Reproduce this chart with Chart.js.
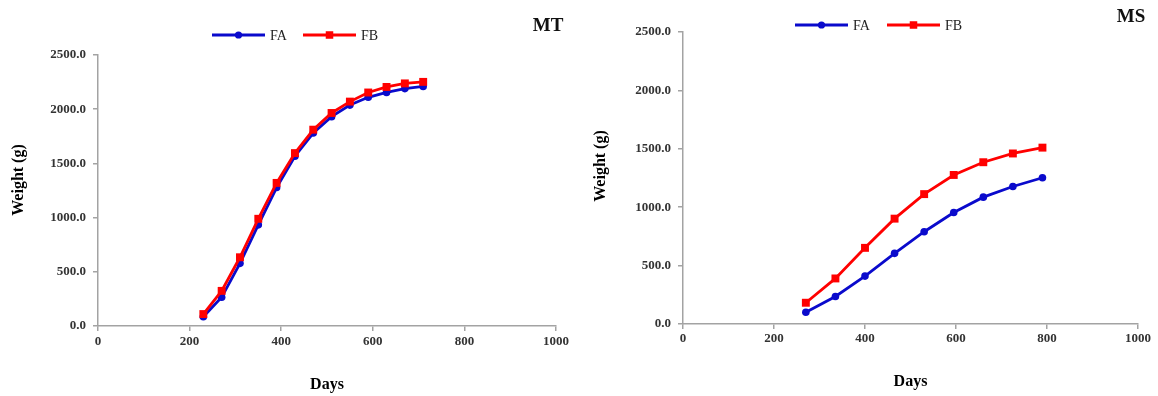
<!DOCTYPE html>
<html lang="en">
<head>
<meta charset="utf-8">
<title>Weight (g) / Days – MT, MS</title>
<script src="https://cdn.jsdelivr.net/npm/chart.js@4.4.1/dist/chart.umd.min.js"></script>
<style>
  html, body { margin: 0; padding: 0; background: #ffffff; }
  .panneau { position: absolute; top: 0; }
  .panneau canvas { display: block; }
  #panneau-mt { left: 0; }
  #panneau-ms { left: 580px; }
</style>
</head>
<body>
<div class="panneau" id="panneau-mt"><canvas id="chart-mt" width="580" height="396"></canvas></div>
<div class="panneau" id="panneau-ms"><canvas id="chart-ms" width="578" height="396"></canvas></div>

<script>
'use strict';

/* === DONNÉES === */
const SERIES = ['FA', 'FB'];

const JOURS_MT = [230, 270, 310, 350, 390, 430, 470, 510, 550, 590, 630, 670, 710];
const POIDS_MT_FA = [85, 265, 578, 933, 1277, 1566, 1780, 1931, 2038, 2110, 2155, 2190, 2210];
const POIDS_MT_FB = [110, 324, 634, 989, 1320, 1595, 1811, 1965, 2070, 2154, 2205, 2238, 2252];

const JOURS_MS = [270, 335, 400, 465, 530, 595, 660, 725, 790];
const POIDS_MS_FA = [100, 236, 410, 605, 790, 955, 1086, 1177, 1252];
const POIDS_MS_FB = [182, 390, 652, 902, 1112, 1276, 1385, 1460, 1510];

const GRADUATIONS_X = [0, 200, 400, 600, 800, 1000];
const GRADUATIONS_Y = [0, 500, 1000, 1500, 2000, 2500];

/* === STYLE === */
const COULEURS = { FA: '#0a0acc', FB: '#ff0000' };
const MARQUEURS = { FA: 'circle', FB: 'rect' };
const RAYONS = { FA: 3.8, FB: 5.6 };
const GRIS_AXE = '#a3a3a3';
const SERIF = '"Liberation Serif", "Times New Roman", serif';

/* === HELPERS === */

function construirePoints(jours, poids) {
  return jours.map((x, i) => ({ x, y: poids[i] }));
}

function dessinerMarqueur(ctx, style, x, y, r) {
  ctx.beginPath();
  if (style === 'rect') {
    const c = Math.SQRT1_2 * r;
    ctx.rect(x - c, y - c, 2 * c, 2 * c);
  } else {
    ctx.arc(x, y, r, 0, Math.PI * 2);
  }
  ctx.fill();
}

/* légende, titre du panneau et titre de l'axe Y */
const pluginDecor = {
  id: 'decor',
  afterDraw(chart, args, opts) {
    const ctx = chart.ctx;
    const leg = opts.legende;
    ctx.save();

    chart.data.datasets.forEach((ds, i) => {
      const x0 = leg.x + i * leg.pas;
      ctx.strokeStyle = ds.borderColor;
      ctx.lineWidth = ds.borderWidth;
      ctx.beginPath();
      ctx.moveTo(x0, leg.y);
      ctx.lineTo(x0 + leg.longueur, leg.y);
      ctx.stroke();
      ctx.fillStyle = ds.borderColor;
      dessinerMarqueur(ctx, ds.pointStyle, x0 + leg.longueur / 2, leg.y, ds.pointRadius * 0.95);

      ctx.fillStyle = '#222222';
      ctx.font = '14px ' + SERIF;
      ctx.textAlign = 'left';
      ctx.textBaseline = 'middle';
      ctx.fillText(ds.label, x0 + leg.longueur + 5, leg.y + 1);
    });

    ctx.fillStyle = '#111111';
    ctx.font = 'bold 19px ' + SERIF;
    ctx.textAlign = 'center';
    ctx.textBaseline = 'middle';
    ctx.fillText(opts.titre.texte, opts.titre.x, opts.titre.y);

    ctx.translate(opts.titreY.x, opts.titreY.y);
    ctx.rotate(-Math.PI / 2);
    ctx.font = 'bold 16px ' + SERIF;
    ctx.fillStyle = '#000000';
    ctx.fillText('Weight (g)', 0, 0);
    ctx.restore();
  }
};

/* === CRÉATION === */

function creerGraphique(idCanvas, jours, poidsFA, poidsFB, mise) {
  const poids = { FA: poidsFA, FB: poidsFB };
  const ctx = document.getElementById(idCanvas).getContext('2d');

  return new Chart(ctx, {
    type: 'line',
    data: {
      datasets: SERIES.map((nom, i) => ({
        label: nom,
        data: construirePoints(jours, poids[nom]),
        borderColor: COULEURS[nom],
        backgroundColor: COULEURS[nom],
        borderWidth: 2.8,
        pointStyle: MARQUEURS[nom],
        pointRadius: RAYONS[nom],
        pointBorderWidth: 0,
        tension: 0,
        order: SERIES.length - i
      }))
    },
    options: {
      responsive: false,
      animation: false,
      layout: { padding: { top: mise.haut, right: mise.droite, left: 0, bottom: 0 } },
      plugins: {
        legend: { display: false },
        tooltip: { enabled: false },
        decor: {
          legende: mise.legende,
          titre: mise.titre,
          titreY: mise.titreY
        }
      },
      scales: {
        x: {
          type: 'linear',
          min: 0,
          max: 1000,
          afterBuildTicks: s => { s.ticks = GRADUATIONS_X.map(v => ({ value: v })); },
          afterFit: s => { s.height = mise.hauteurX; },
          ticks: {
            autoSkip: false,
            maxRotation: 0,
            padding: mise.padGradX,
            color: '#333333',
            font: { family: SERIF, size: 13, weight: 'bold' },
            callback: v => String(v)
          },
          grid: { drawOnChartArea: false, drawTicks: true, tickLength: 5, tickColor: GRIS_AXE, lineWidth: 1.5 },
          border: { color: GRIS_AXE, width: 1.5 },
          title: {
            display: true,
            text: 'Days',
            color: '#000000',
            font: { family: SERIF, size: 16, weight: 'bold' },
            padding: { top: 0, bottom: mise.padTitreX }
          }
        },
        y: {
          min: 0,
          max: 2500,
          afterBuildTicks: s => { s.ticks = GRADUATIONS_Y.map(v => ({ value: v })); },
          afterFit: s => { s.width = mise.largeurY; },
          ticks: {
            padding: 7,
            color: '#333333',
            font: { family: SERIF, size: 13, weight: 'bold' },
            callback: v => v.toFixed(1)
          },
          grid: { drawOnChartArea: false, drawTicks: true, tickLength: 5, tickColor: GRIS_AXE, lineWidth: 1.5 },
          border: { color: GRIS_AXE, width: 1.5 }
        }
      }
    },
    plugins: [pluginDecor]
  });
}

/* === DÉMARRAGE === */

creerGraphique('chart-mt', JOURS_MT, POIDS_MT_FA, POIDS_MT_FB, {
  haut: 55,
  droite: 24,
  largeurY: 98,
  hauteurX: 70,
  padGradX: 3,
  padTitreX: 2,
  legende: { x: 212, y: 35, pas: 91, longueur: 53 },
  titre: { texte: 'MT', x: 548, y: 26 },
  titreY: { x: 19, y: 180 }
});

creerGraphique('chart-ms', JOURS_MS, POIDS_MS_FA, POIDS_MS_FB, {
  haut: 32,
  droite: 20,
  largeurY: 103,
  hauteurX: 72,
  padGradX: 2,
  padTitreX: 5,
  legende: { x: 215, y: 25, pas: 92, longueur: 53 },
  titre: { texte: 'MS', x: 551, y: 17 },
  titreY: { x: 21, y: 166 }
});
</script>
</body>
</html>
